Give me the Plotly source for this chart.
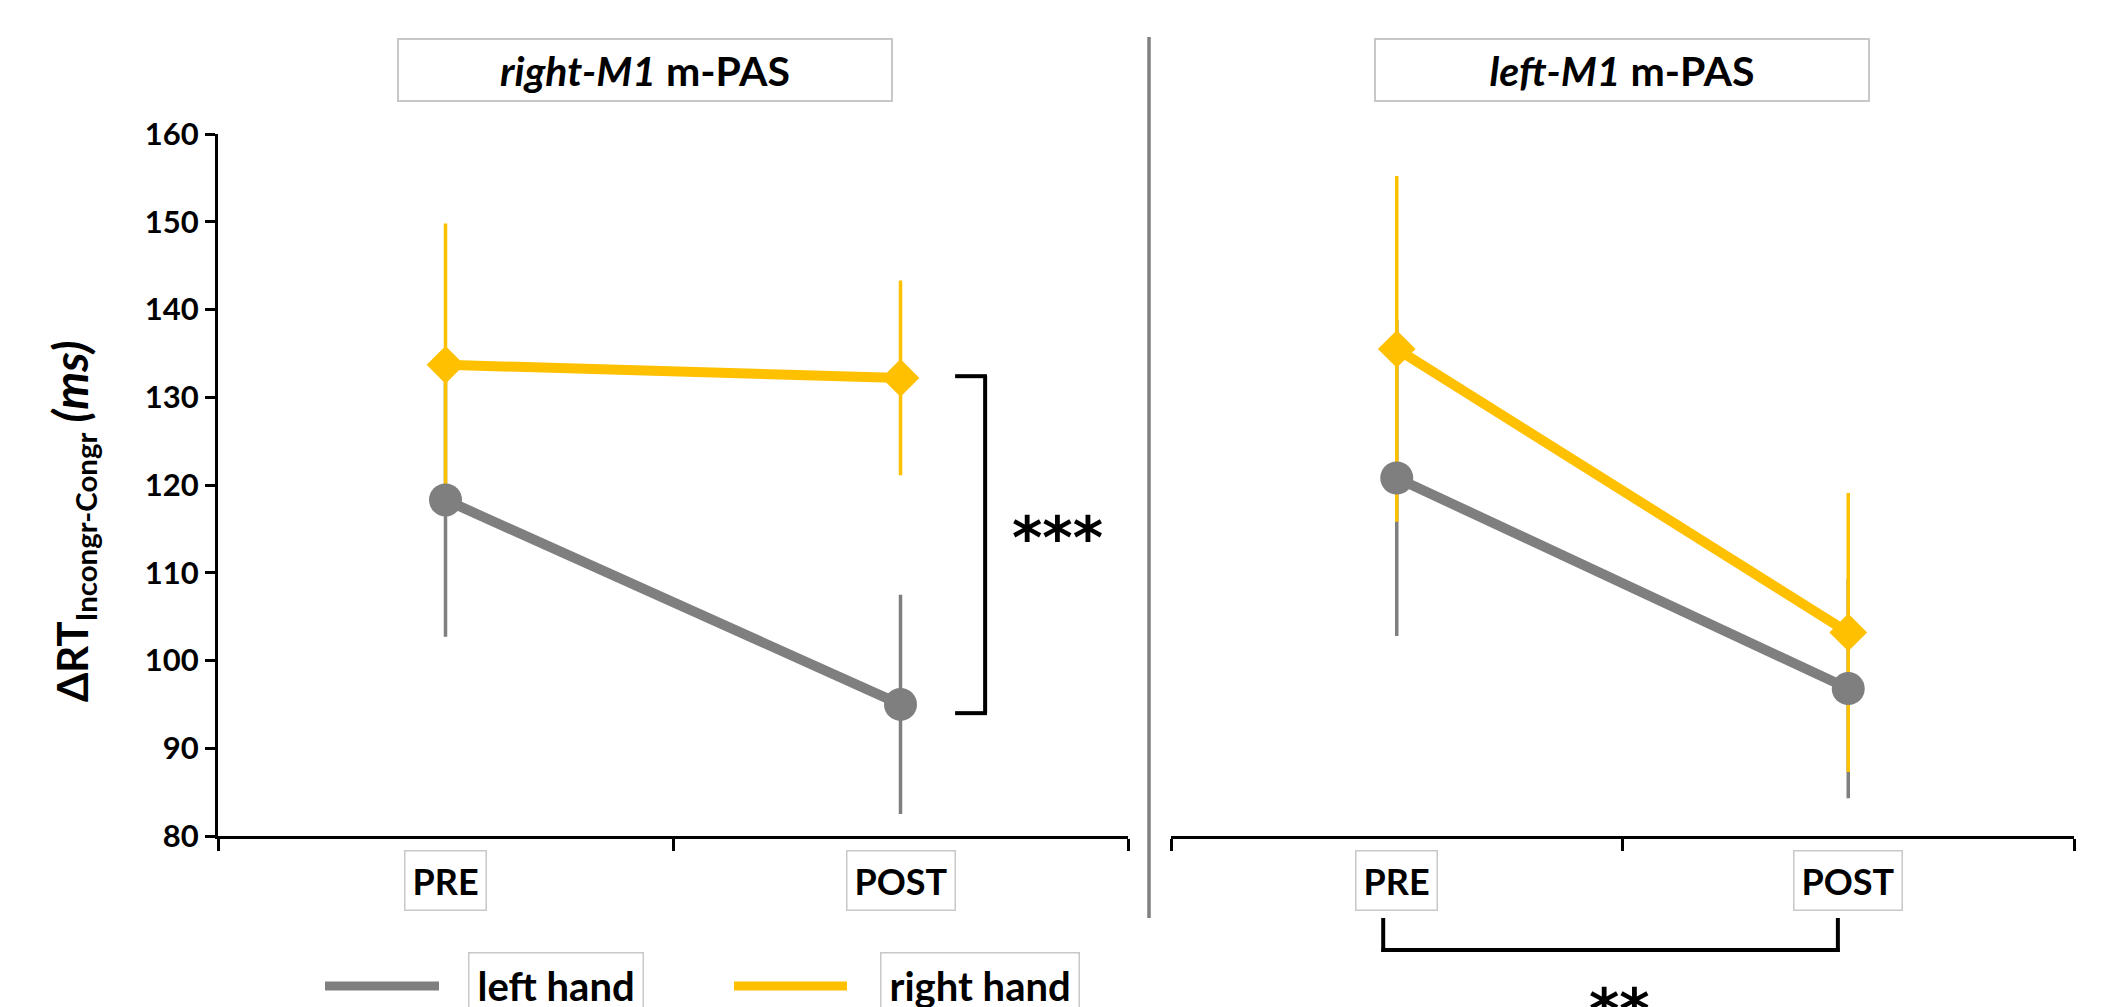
import plotly.graph_objects as go

W, H = 2108, 1007

# ---------------- data ----------------
phases = ["PRE", "POST"]
panel_titles = ["<i>right-M1</i> m-PAS", "<i>left-M1</i> m-PAS"]
series_names = ["left hand", "right hand"]
series_colors = ["#7F7F7F", "#FFC000"]

# panel 1: right-M1 m-PAS
rM1_left_hand = [118.3, 95.0]
rM1_left_hand_err = [15.6, 12.5]
rM1_right_hand = [133.7, 132.2]
rM1_right_hand_err = [16.1, 11.1]

# panel 2: left-M1 m-PAS
lM1_left_hand = [120.8, 96.8]
lM1_left_hand_err = [18.0, 12.5]
lM1_right_hand = [135.5, 103.2]
lM1_right_hand_err = [19.7, 15.9]

y_ticks = [80, 90, 100, 110, 120, 130, 140, 150, 160]
sig_labels = ["***", "**"]

FONT = "Lato, 'DejaVu Sans', sans-serif"


def px(x):
    return x / W


def py(y):
    return 1 - y / H


fig = go.Figure()

panels = [
    ("x", "y", [rM1_left_hand, rM1_right_hand], [rM1_left_hand_err, rM1_right_hand_err]),
    ("x2", "y2", [lM1_left_hand, lM1_right_hand], [lM1_left_hand_err, lM1_right_hand_err]),
]
symbols = ["circle", "diamond"]
msizes = [33, 29]

for xa, ya, vals, errs in panels:
    # error bars first (grey under yellow)
    for i in range(2):
        fig.add_trace(go.Scatter(
            x=phases, y=vals[i], xaxis=xa, yaxis=ya, mode="markers",
            marker=dict(size=1, color="rgba(0,0,0,0)"),
            error_y=dict(type="data", array=errs[i], symmetric=True,
                         color=series_colors[i], thickness=3.5, width=0),
            showlegend=False, hoverinfo="skip"))
    # lines + markers
    for i in range(2):
        fig.add_trace(go.Scatter(
            x=phases, y=vals[i], xaxis=xa, yaxis=ya, mode="lines+markers",
            name=series_names[i],
            line=dict(color=series_colors[i], width=10),
            marker=dict(symbol=symbols[i], size=msizes[i], color=series_colors[i],
                        line=dict(width=0)),
            showlegend=False))

xaxis_common = dict(
    type="category", categoryorder="array", categoryarray=phases,
    range=[-0.5, 1.5], tickson="boundaries", ticks="outside", ticklen=12,
    tickwidth=3, tickcolor="black", showline=True, linewidth=3, linecolor="black",
    showticklabels=False, showgrid=False, zeroline=False, fixedrange=True,
    automargin=False)

yaxis_common = dict(range=[80, 160], tickvals=y_ticks, showgrid=False,
                    zeroline=False, domain=[py(836), py(134)], automargin=False,
                    fixedrange=True)

fig.update_layout(
    width=W, height=H, margin=dict(l=0, r=0, t=0, b=0, pad=0, autoexpand=False),
    paper_bgcolor="white", plot_bgcolor="white",
    font=dict(family=FONT, color="black"),
    showlegend=False,
    xaxis=dict(domain=[px(218), px(1128)], anchor="y", **xaxis_common),
    xaxis2=dict(domain=[px(1171), px(2074)], anchor="y2", **xaxis_common),
    yaxis=dict(anchor="x", ticks="outside", ticklen=10, tickwidth=3, tickcolor="black",
               showline=True, linewidth=3, linecolor="black",
               tickfont=dict(family=FONT, size=31, weight="bold"), **yaxis_common),
    yaxis2=dict(anchor="x2", visible=False, **yaxis_common),
)

ann = []
# panel titles
for xc, t in zip([645, 1622], panel_titles):
    ann.append(dict(xref="paper", yref="paper", x=px(xc), y=py(70), xanchor="center",
                    yanchor="middle", text="<b>" + t + "</b>", showarrow=False,
                    width=492, height=60, borderpad=0, bordercolor="#C8C8C8",
                    borderwidth=2, bgcolor="white", font=dict(size=41, family=FONT)))
# category labels in boxes
for xa in ["x", "x2"]:
    for ph in phases:
        ann.append(dict(xref=xa, yref="paper", x=ph, y=py(880), xanchor="center",
                        yanchor="middle", text="<b>" + ph + "</b>", showarrow=False,
                        borderpad=7, bordercolor="#C8C8C8", borderwidth=1.5,
                        font=dict(size=36, family=FONT)))
# y axis title
ann.append(dict(xref="paper", yref="paper", x=px(72), y=py(521), xanchor="center",
                yanchor="middle", textangle=-90, showarrow=False,
                text="<b>ΔRT<sub>Incongr-Congr</sub> <span style='font-size:48px'><i>(ms)</i></span></b>",
                font=dict(size=42, family=FONT)))
# significance
ann.append(dict(xref="x", yref="y", x=1.344, y=114.0, xanchor="center", yanchor="middle",
                text="<b>" + sig_labels[0] + "</b>", showarrow=False,
                font=dict(size=58, family="DejaVu Sans")))
ann.append(dict(xref="x2", yref="paper", x=0.494, y=py(974), xanchor="center",
                yanchor="top", text="<b>" + sig_labels[1] + "</b>", showarrow=False,
                font=dict(size=58, family="DejaVu Sans")))
# legend texts
for xc, name in zip([556, 980], series_names):
    ann.append(dict(xref="paper", yref="paper", x=px(xc), y=py(985), xanchor="center",
                    yanchor="middle", text="<b>" + name + "</b>", showarrow=False,
                    borderpad=8, bordercolor="#C8C8C8", borderwidth=1.5,
                    font=dict(size=40, family=FONT)))

shapes = []
# separator
shapes.append(dict(type="line", xref="paper", yref="paper", x0=px(1149), x1=px(1149),
                   y0=py(37), y1=py(918), line=dict(color="#808080", width=3.5)))
# left bracket (***)
br = dict(color="black", width=4)
shapes.append(dict(type="line", xref="x", yref="y", x0=1.186, x1=1.186, y0=94.0, y1=132.4, line=br))
shapes.append(dict(type="line", xref="x", yref="y", x0=1.12, x1=1.19, y0=132.4, y1=132.4, line=br))
shapes.append(dict(type="line", xref="x", yref="y", x0=1.12, x1=1.19, y0=94.0, y1=94.0, line=br))
# bottom bracket (**)
shapes.append(dict(type="line", xref="x2", yref="paper", x0=-0.03, x1=-0.03, y0=py(918), y1=py(952), line=br))
shapes.append(dict(type="line", xref="x2", yref="paper", x0=0.977, x1=0.977, y0=py(918), y1=py(952), line=br))
shapes.append(dict(type="line", xref="x2", yref="paper", x0=-0.034, x1=0.981, y0=py(950), y1=py(950), line=br))
# legend samples
for (x0, x1), c in zip([(325, 439), (734, 847)], series_colors):
    shapes.append(dict(type="line", xref="paper", yref="paper", x0=px(x0), x1=px(x1),
                       y0=py(986), y1=py(986), line=dict(color=c, width=9)))

fig.update_layout(annotations=ann, shapes=shapes)

fig.write_html("out.html", config={"displayModeBar": False},
               post_script="document.body.style.margin='0';document.body.style.overflow='hidden';")
